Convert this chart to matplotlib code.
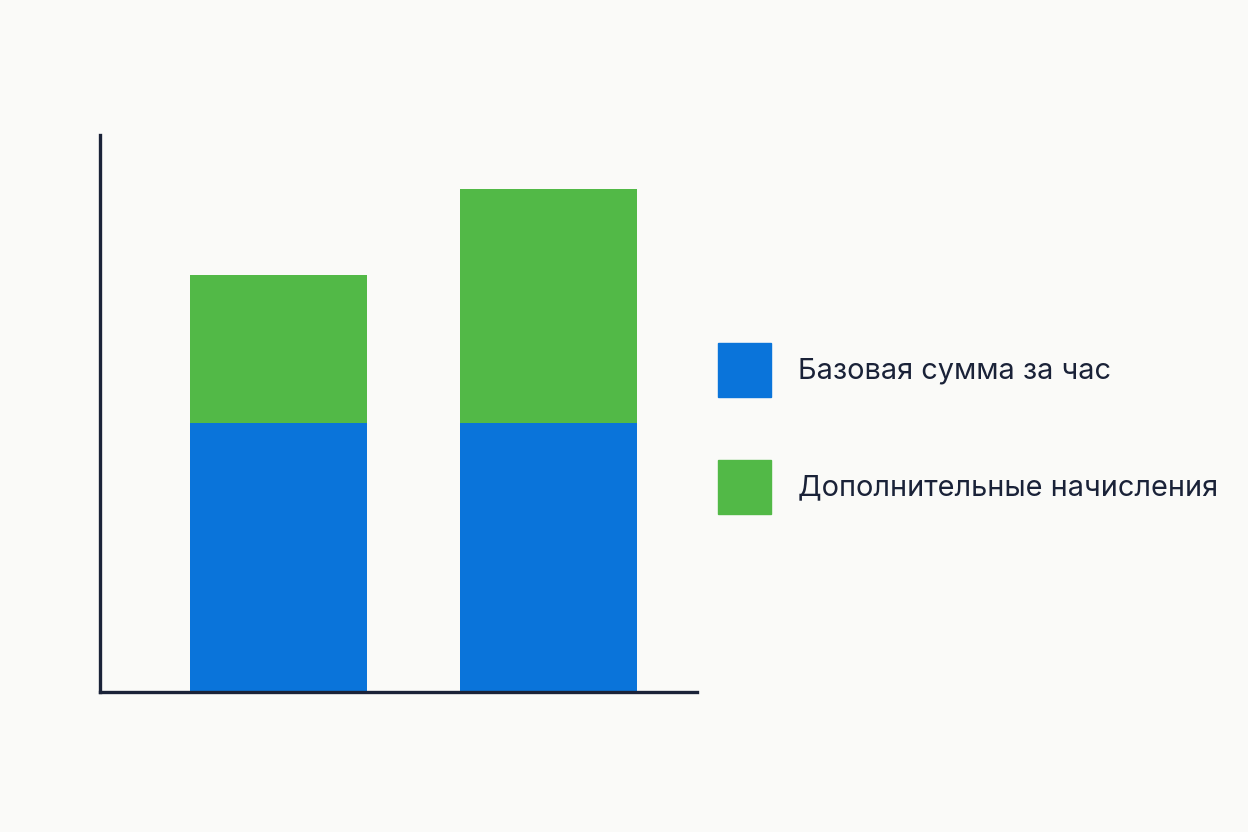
import matplotlib.pyplot as plt
from matplotlib.patches import Rectangle

categories = ['A', 'B']
base = [10.0, 10.0]
extra = [5.5, 8.7]
labels = ['Базовая сумма за час', 'Дополнительные начисления']
colors = ['#0A74DA', '#52B947']
ink = '#1A2238'
bg = '#FAFAF8'

fig = plt.figure(figsize=(12.48, 8.32), dpi=100, facecolor=bg)
ax = fig.add_axes([0.0801, 0.1683, 0.4784, 0.6695], facecolor=bg)

x = range(len(categories))
ax.bar(x, base, width=0.656, color=colors[0])
ax.bar(x, extra, bottom=base, width=0.656, color=colors[1])

ax.set_xlim(-0.661, 1.55)
ax.set_ylim(0, 20.7)
ax.set_xticks([])
ax.set_yticks([])
for s in ['top', 'right']:
    ax.spines[s].set_visible(False)
for s in ['left', 'bottom']:
    ax.spines[s].set_color(ink)
    ax.spines[s].set_linewidth(2.4)

# legend drawn by hand to match the layout
W, H = 1248, 832
for i, (lab, c) in enumerate(zip(labels, colors)):
    top = 343 + i * 117
    fig.patches.append(Rectangle((718 / W, 1 - (top + 54) / H), 53 / W, 54 / H,
                                 transform=fig.transFigure, color=c))
    fig.text(798 / W, 1 - (top + 28) / H, lab, fontsize=20.8, color=ink,
             va='center', ha='left', family=['Inter', 'DejaVu Sans'])

fig.savefig('out.png', dpi=100, facecolor=bg)
